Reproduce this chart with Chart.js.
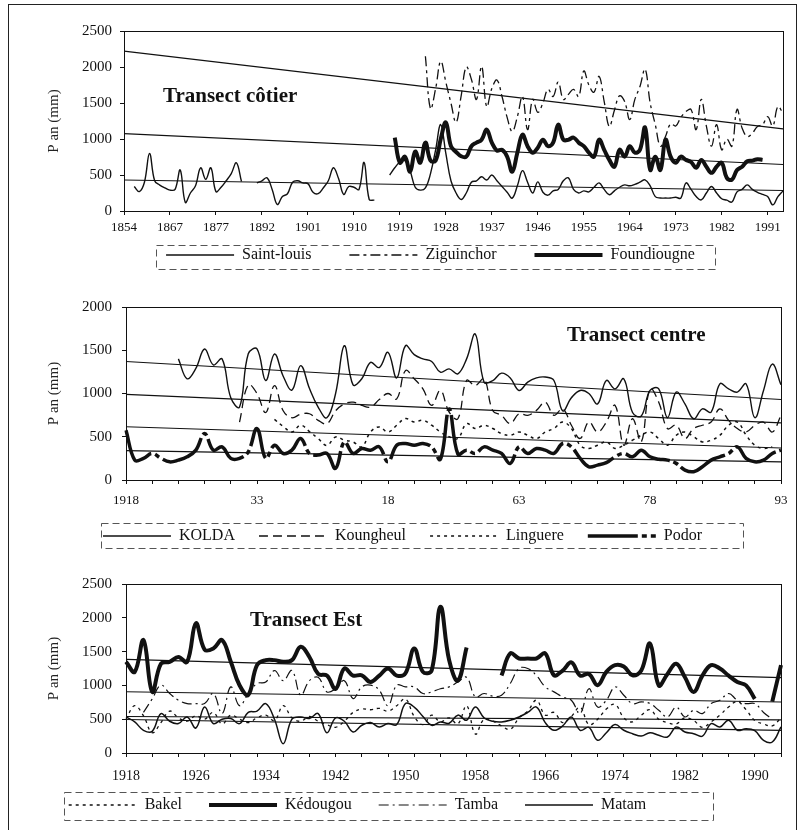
<!DOCTYPE html>
<html>
<head>
<meta charset="utf-8">
<script src="https://cdn.jsdelivr.net/npm/chart.js@4.4.1/dist/chart.umd.min.js"></script>
<style>
  html, body { margin: 0; padding: 0; background: #fff; }
  #page { position: relative; width: 800px; height: 830px; overflow: hidden; font-family: "Liberation Serif", "Times New Roman", serif; }
  .cadre { position: absolute; left: 8px; top: 4px; width: 789px; height: 840px; border: 1px solid #222; box-sizing: border-box; }
  .panneau { position: absolute; left: 8px; width: 789px; }
  .titre { position: absolute; font-weight: bold; font-size: 21px; line-height: 21px; color: #111; white-space: nowrap; }
</style>
</head>
<body>
<div id="page">
  <div class="cadre"></div>
  <div class="panneau" style="top:0;height:280px"><canvas id="cotier"></canvas></div>
  <div class="panneau" style="top:280px;height:275px"><canvas id="centre"></canvas></div>
  <div class="panneau" style="top:555px;height:275px"><canvas id="est"></canvas></div>
  <div class="titre" style="left:163px;top:85px">Transect côtier</div>
  <div class="titre" style="left:567px;top:324px">Transect centre</div>
  <div class="titre" style="left:250px;top:609px">Transect Est</div>
</div>
<script>
// Années (catégories)
function range(a, b) {
    const r = [];
    for (let y = a; y <= b; y++) r.push(String(y));
    return r;
}
const anneesCotier = [...range(1854, 1862), ...range(1867, 1875), ...range(1877, 1885), ...range(1892, 1994)];
const anneesCentre = range(1918, 1993);
const anneesEst = range(1918, 1993);

// Etiquettes des axes X
const ticksCotier = ['1854', '1867', '1877', '1892', '1901', '1910', '1919', '1928', '1937', '1946', '1955', '1964', '1973', '1982', '1991'];
const ticksCentre = ['1918', '33', '18', '63', '78', '93'];
const ticksEst = ['1918', '1926', '1934', '1942', '1950', '1958', '1966', '1974', '1982', '1990'];

// Transect côtier
const saintLouis = [null, null,
    340, 270, 400, 800, 420, 360, 320, 290, 300, 570, 120, 250, 350, 600, 440, 600, 270, 330, 420, 520, 670, 410,
    null, null,
    390, 420, 460, 300, 90, 200, 240, 400, 420, 390, 380, 260, 240, 320, 420, 600, 450, 230, 340, 330, 300, 675, 160, 150,
    null, null,
    500, 600, 680, 700, 560, 330, 290, 320, 520, 850,
    1200, 800, 420, 250, 160, 250, 400, 420, 475, 430,
    500, 420, 340, 260, 180, 350, 560, 400, 250, 405,
    260, 220, 280, 300, 420, 460, 300, 250, 280, 265,
    330, 390, 300, 225, 280, 330, 363, 350, 370, 400,
    433, 350, 200, 180, 180, 180, 190, 180, 390, 300,
    200, 154, 250, 340, 250, 170, 150, 125, 265, 300,
    363, 300, 260, 230, 200, 85, 200, 280];
const ziguinchorDebut = 1924;
const ziguinchor = [2150, 1420, 1700, 2080, 1790, 1500, 1230, 1600, 2000, 1830,
    1550, 2010, 1450, 1700, 1820, 1590, 1300, 1105, 1310, 1590,
    1130, 1550, 1370, 1500, 1690, 1590, 1790, 1550, 1620, 1690,
    1590, 1945, 1750, 1650, 1870, 1520, 1175, 1400, 1600, 1520,
    1270, 1550, 1730, 1970, 1500, 1200, 900, 1035, 1210, 1180,
    1300, 1380, 1410, 1130, 1550, 1180, 900, 1200, 850, 1000,
    900, 1410, 1150, 1035, 1080, 1175, 1200, 1310, 1180, 1450,
    1360];
const foundiougneDebut = 1918;
const foundiougne = [1020, 670, 755, 545, 825, 670, 950, 700, 700, 1000,
    1230, 900, 820, 760, 755, 900, 950, 990, 1130, 950,
    840, 850, 755, 545, 810, 1060, 900, 810, 880, 990,
    900, 950, 1200, 990, 990, 1020, 950, 900, 810, 755,
    990, 850, 710, 615, 850, 755, 900, 810, 850, 1160,
    570, 755, 570, 990, 755, 670, 755, 710, 680, 600,
    710, 615, 530, 615, 670, 460, 435, 570, 615, 690,
    700, 720, 710];
// droites de tendance : [début, fin]
const tendSaintLouis = [430, 285];
const tendZiguinchor = [2220, 1140];
const tendFoundiougne = [1075, 645];

// Transect centre
const koldaDebut = 1924;
const kolda = [1400, 1170, 1290, 1515, 1330, 1400, 950, 843, 1460, 1515,
    1150, 1457, 1200, 1040, 1322, 1060, 843, 720, 1000, 1552,
    1100, 1170, 1360, 1300, 1476, 1180, 1552, 1450, 1400, 1370,
    1246, 1285, 1227, 1400, 1687, 1131, 1150, 1235, 1180, 1035,
    1131, 1180, 1190, 1150, 800, 950, 1035, 1000, 880, 1150,
    1054, 1170, 780, 740, 1035, 1054, 720, 1016, 880, 708,
    823, 785, 1112, 1054, 1016, 1112, 720, 1035, 1340, 1100];
const koungheulDebut = 1931;
const koungheul = [670, 1100, 1000, 780, 1092, 800, 720, 760, 766, 690,
    650, 800, 880, 900, 862, 843, 930, 1000, 938, 1265,
    1170, 1054, 862, 1035, 785, 708, 1150, 1092, 1170, 800,
    747, 652, 766, 747, 805, 900, 747, 823, 633, 480,
    670, 555, 670, 862, 402, 708, 440, 1054, 900, 595,
    633, 480, 595, 633, 670, 823, 690, 595, 555, 633,
    670, 555, 747];
const lingueraDebut = 1935;
const linguere = [700, 620, 555, 633, 560, 480, 400, 497, 460, 440,
    383, 555, 614, 555, 633, 710, 670, 690, 633, 555,
    500, 480, 652, 595, 633, 595, 536, 517, 555, 517,
    478, 555, 595, 670, 595, 402, 364, 402, 440, 364,
    402, 460, 517, 555, 478, 402, 517, 555, 500, 440,
    460, 517, 633, 670, 520, 402, 364, 383];
const podorDebut = 1918;
const podor = [575, 230, 250, 307, 250, 210, 230, 268, 345, 537,
    345, 383, 250, 250, 326, 595, 250, 402, 307, 345,
    480, 307, 288, 307, 134, 440, 307, 364, 345, 383,
    210, 402, 422, 402, 422, 383, 240, 820, 300, 345,
    307, 383, 345, 307, 192, 383, 307, 364, 345, 307,
    422, 383, 250, 153, 172, 200, 268, 307, 268, 345,
    268, 240, 230, 192, 115, 96, 153, 230, 268, 307,
    383, 250, 210, 230, 307, 345];
const tendKolda = [1370, 930];
const tendKoungheul = [990, 660];
const tendLinguere = [615, 370];
const tendPodor = [340, 210];

// Transect Est
const bakelDebut = 1918;
const bakel = [500, 700, 550, 300, 450, 620, 520, 470, 550, 500,
    600, 430, 560, 500, 450, 520, 560, 480, 700, 520,
    470, 540, 470, 420, 380, 470, 600, 650, 640, 660,
    620, 700, 800, 540, 420, 560, 460, 520, 430, 700,
    280, 500, 470, 400, 350, 520, 620, 780, 560, 600,
    450, 540, 680, 420, 500, 650, 720, 520, 460, 560,
    640, 500, 450, 430, 520, 480, 380, 460, 560, 680,
    760, 640, 480, 430, 400, 520];
const kedougouDebut = 1918;
const kedougou = [1349, 1200, 1670, 904, 1320, 1349, 1420, 1349, 1918, 1530,
    1547, 1670, 1350, 1003, 860, 1300, 1374, 1374, 1349, 1374,
    1571, 1420, 1170, 1145, 950, 1250, 1145, 1150, 1050, 1145,
    1250, 1145, 1180, 1547, 1200, 1220, 2163, 1374, 1070, 1560,
    null, null, null, 1145, 1473, 1398, 1398, 1398, 1473, 1150,
    1220, 1340, 1145, 1170, 1003, 1200, 1300, 1280, 1150, 1220,
    1620, 1000, 1170, 1320, 1120, 904, 1145, 1300, 1250, 1145,
    1050, 1000, 800, null, 760, 1300];
const tambaDebut = 1920;
const tamba = [600, 800, 1003, 880, 781, 731, 731, 731, 880, 583,
    978, 700, 880, 1028, 1050, 1220, 1070, 1220, 855, 1070,
    1120, 904, 950, 1070, 805, 978, 1003, 930, 700, 1003,
    978, 978, 880, 904, 950, 978, 1050, 1120, 830, 880,
    840, 855, 1028, 1250, 1250, 1145, 978, 904, 830, 780,
    583, 950, 680, 780, 978, 855, 731, 755, 731, 632,
    533, 680, 533, 632, 583, 731, 780, 880, 780, 731,
    731, 600, 500];
const matamDebut = 1918;
const matam = [533, 460, 336, 320, 583, 470, 435, 533, 370, 680,
    435, 500, 510, 435, 600, 620, 731, 500, 138, 500,
    533, 510, 583, 300, 520, 470, 311, 410, 450, 385,
    435, 420, 731, 680, 540, 410, 460, 440, 560, 485,
    680, 520, 470, 460, 485, 533, 600, 680, 450, 336,
    400, 533, 336, 380, 188, 300, 420, 336, 286, 250,
    300, 262, 237, 385, 311, 286, 250, 435, 385, 485,
    336, 360, 330, 188, 163, 385];
const tendKedougou = [1385, 1115];
const tendTamba = [905, 755];
const tendBakel = [540, 490];
const tendMatam = [495, 335];

Chart.defaults.font.family = '"Liberation Serif", "Times New Roman", serif';
Chart.defaults.color = '#111';
Chart.defaults.animation = false;

// place une série qui commence à l'année "debut" sur les catégories
function aligne(annees, debut, valeurs) {
    const i0 = annees.indexOf(String(debut));
    return annees.map((_, i) => (i >= i0 && i - i0 < valeurs.length) ? valeurs[i - i0] : null);
}

function serie(label, data, style) {
    return Object.assign({
        label: label, data: data, borderColor: '#111', backgroundColor: '#111',
        borderWidth: 1.3, pointRadius: 0, tension: 0.4, spanGaps: false, fill: false
    }, style);
}

function tendance(nom, annees, bouts) {
    return {
        label: 'Linéaire (' + nom + ')',
        data: [{ x: annees[0], y: bouts[0] }, { x: annees[annees.length - 1], y: bouts[1] }],
        borderColor: '#111', borderWidth: 1.1, pointRadius: 0, tension: 0, fill: false
    };
}

// cadre du graphique + boîte de légende + placement de la légende
const cadre = {
    id: 'cadre',
    afterLayout(chart, args, opts) {
        const L = chart.legend;
        if (!L) return;
        if (opts.decalage) {
            L.left += opts.decalage;
            L.right += opts.decalage;
        }
        if (opts.legendeY) {
            const p = L.options.labels.padding;
            L.top = opts.legendeY - p - 8;
            L.bottom = L.top + 2 * p + 26;
            L.height = L.bottom - L.top;
        }
    },
    afterDraw(chart, args, opts) {
        const { ctx, chartArea: a } = chart;
        ctx.save();
        ctx.strokeStyle = '#111';
        ctx.lineWidth = 1;
        ctx.setLineDash([]);
        ctx.strokeRect(Math.round(a.left) + 0.5, Math.round(a.top) + 0.5, Math.round(a.right - a.left), Math.round(a.bottom - a.top));
        const boxes = chart.legend && chart.legend.legendHitBoxes;
        if (opts.marges && boxes && boxes.length) {
            const m = opts.marges;
            const left = Math.min(...boxes.map(b => b.left)) - m[0];
            const right = Math.max(...boxes.map(b => b.left + b.width)) + m[1];
            const top = Math.min(...boxes.map(b => b.top)) - m[2];
            const bottom = Math.max(...boxes.map(b => b.top + b.height)) + m[3];
            ctx.strokeStyle = '#555';
            ctx.setLineDash([7, 4]);
            ctx.strokeRect(Math.round(left) + 0.5, Math.round(top) + 0.5, Math.round(right - left), Math.round(bottom - top));
        }
        ctx.restore();
    }
};

function axeX(etiquettes, pas, pasTrait, taille, ecart, hauteur) {
    return {
        type: 'category',
        grid: {
            display: true, drawOnChartArea: false, tickLength: 4,
            color: c => (c.index % pasTrait === 0 ? '#111' : 'rgba(0,0,0,0)')
        },
        border: { display: true, color: '#111' },
        ticks: {
            autoSkip: false, maxRotation: 0, minRotation: 0, padding: ecart,
            font: { size: taille }, color: '#111',
            callback: (v, i) => (i % pas === 0 ? etiquettes[i / pas] : '')
        },
        afterFit: s => { s.height = hauteur; }
    };
}

function axeY(max, largeur, ecart) {
    return {
        min: 0, max: max,
        ticks: { stepSize: 500, padding: ecart, font: { size: 15 }, color: '#111', callback: v => String(v) },
        grid: { drawOnChartArea: false, tickLength: 4, color: '#111' },
        border: { color: '#111' },
        title: { display: true, text: 'P an (mm)', font: { size: 15 }, color: '#222', padding: { top: 37, bottom: 0 } },
        afterFit: s => { s.width = largeur; }
    };
}

function legendeTraits(chart) {
    return Chart.defaults.plugins.legend.labels.generateLabels(chart).map(item => {
        const ds = chart.data.datasets[item.datasetIndex];
        item.lineDash = ds.borderDash || [];
        item.lineWidth = ds.borderWidth;
        item.strokeStyle = ds.borderColor;
        return item;
    });
}

function graphique(id, annees, datasets, cfg) {
    return new Chart(document.getElementById(id), {
        type: 'line',
        data: { labels: annees, datasets: datasets },
        plugins: [cadre],
        options: {
            responsive: true,
            maintainAspectRatio: false,
            layout: { padding: cfg.padding },
            scales: { x: cfg.x, y: cfg.y },
            plugins: {
                tooltip: { enabled: false },
                cadre: { marges: cfg.marges, decalage: cfg.decalage, legendeY: cfg.legendeY },
                legend: {
                    position: 'bottom',
                    maxHeight: 20,
                    labels: {
                        usePointStyle: true, pointStyle: 'line', pointStyleWidth: 68,
                        padding: cfg.ecartLegende, font: { size: 16 }, color: '#111',
                        generateLabels: legendeTraits,
                        filter: item => !item.text.startsWith('Linéaire')
                    }
                }
            }
        }
    });
}

graphique('cotier', anneesCotier, [
    serie('Saint-louis', saintLouis, { borderWidth: 1.4 }),
    serie('Ziguinchor', aligne(anneesCotier, ziguinchorDebut, ziguinchor), { borderWidth: 1.3, borderDash: [10, 4, 3, 4] }),
    serie('Foundiougne', aligne(anneesCotier, foundiougneDebut, foundiougne), { borderWidth: 4 }),
    tendance('Saint-louis', anneesCotier, tendSaintLouis),
    tendance('Ziguinchor', anneesCotier, tendZiguinchor),
    tendance('Foundiougne', anneesCotier, tendFoundiougne)
], {
    padding: { top: 31, right: 14, bottom: 19, left: 0 },
    x: axeX(ticksCotier, 9, 9, 13, 5, 30),
    y: axeY(2500, 116, 8),
    ecartLegende: 38,
    decalage: 35,
    legendeY: 255,
    marges: [10, 20, 2, 6]
});

graphique('centre', anneesCentre, [
    serie('KOLDA', aligne(anneesCentre, koldaDebut, kolda), { borderWidth: 1.4 }),
    serie('Koungheul', aligne(anneesCentre, koungheulDebut, koungheul), { borderWidth: 1.3, borderDash: [9, 5] }),
    serie('Linguere', aligne(anneesCentre, lingueraDebut, linguere), { borderWidth: 1.5, borderDash: [3, 4] }),
    serie('Podor', aligne(anneesCentre, podorDebut, podor), { borderWidth: 3.5, borderDash: [50, 4, 5, 4] }),
    tendance('KOLDA', anneesCentre, tendKolda),
    tendance('Koungheul', anneesCentre, tendKoungheul),
    tendance('Linguere', anneesCentre, tendLinguere),
    tendance('Podor', anneesCentre, tendPodor)
], {
    padding: { top: 27, right: 16, bottom: 21, left: 0 },
    x: axeX(ticksCentre, 15, 3, 13, 9, 34),
    y: axeY(2000, 118, 10),
    ecartLegende: 24,
    decalage: 8,
    legendeY: 256,
    marges: [2, 41, 5, 4]
});

graphique('est', anneesEst, [
    serie('Bakel', aligne(anneesEst, bakelDebut, bakel), { borderWidth: 1.3, borderDash: [3, 4] }),
    serie('Kédougou', aligne(anneesEst, kedougouDebut, kedougou), { borderWidth: 4 }),
    serie('Tamba', aligne(anneesEst, tambaDebut, tamba), { borderWidth: 1.2, borderDash: [10, 4, 2, 4] }),
    serie('Matam', aligne(anneesEst, matamDebut, matam), { borderWidth: 1.5 }),
    tendance('Bakel', anneesEst, tendBakel),
    tendance('Kédougou', anneesEst, tendKedougou),
    tendance('Tamba', anneesEst, tendTamba),
    tendance('Matam', anneesEst, tendMatam)
], {
    padding: { top: 29, right: 16, bottom: 21, left: 0 },
    x: axeX(ticksEst, 8, 3, 14, 11, 36),
    y: axeY(2500, 118, 10),
    ecartLegende: 27,
    decalage: -37,
    legendeY: 250,
    marges: [5, 66, 5, 7]
});
</script>
</body>
</html>
